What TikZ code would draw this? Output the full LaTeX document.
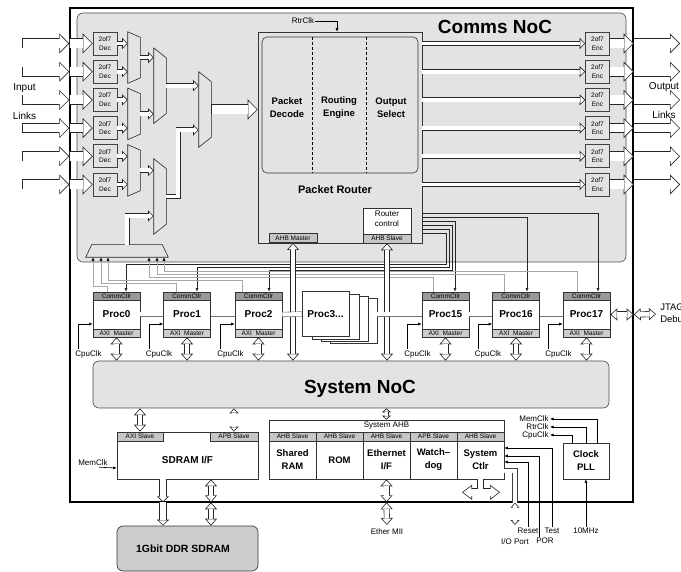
\documentclass[tikz,border=0pt]{standalone}
\usepackage{fontspec}
\setmainfont{Liberation Sans}
\usetikzlibrary{arrows.meta}
\usetikzlibrary{positioning}

\begin{document}
\begin{tikzpicture}[x=1pt,y=-1pt,semithick]
	%\draw[help lines] (0,0) grid (681,572);
	\useasboundingbox (0,0) rectangle (681,572);

	\tikzstyle{noc} = [draw=black!70,fill=gray!22,rounded corners=6pt,inner sep=0pt]
	\tikzstyle{blk} = [draw=black!80,fill=white,inner sep=0pt]
	\tikzstyle{codec} = [draw=black!75,fill=gray!22,minimum width=24pt,minimum height=23pt,inner sep=0pt,align=center,font=\fontsize{6.5}{8.5}\selectfont]
	\tikzstyle{muxn} = [inner sep=0pt,minimum width=12pt]
	\tikzstyle{muxl} = [draw=black!85,fill=gray!22]
	\tikzstyle{proc} = [blk,minimum width=47pt,minimum height=45pt,font=\fontsize{10}{12}\selectfont\bfseries]
	\tikzstyle{ctl} = [draw=black!80,fill=gray!80,minimum width=47pt,minimum height=8pt,inner sep=0pt,font=\fontsize{6.5}{7}\selectfont]
	\tikzstyle{axi} = [draw=black!80,fill=gray!40,minimum width=47pt,minimum height=8pt,inner sep=0pt,font=\fontsize{6.5}{7}\selectfont]
	\tikzstyle{slv} = [draw=black!80,fill=gray!45,minimum height=9pt,inner sep=0pt,font=\fontsize{6.5}{7}\selectfont]
	\tikzstyle{bl} = [align=center,inner sep=0pt,font=\fontsize{9.5}{13}\selectfont\bfseries]
	\tikzstyle{lbl} = [inner sep=1pt,font=\fontsize{8}{9}\selectfont]
	\tikzstyle{big} = [font=\fontsize{10}{12}\selectfont]
	\tikzstyle{sig} = [->,>={Latex[length=3.5pt,width=3pt]},black]
	\tikzstyle{gline} = [->,>={Latex[length=3.5pt,width=3pt,color=black]},gray!70]
	\tikzstyle{rline} = [->,>={Latex[length=3.5pt,width=3pt]},black!85]
	\tikzstyle{bigarr} = [line width=10pt,draw=black!85,-{Triangle[length=10pt,width=20pt,fill=white,line width=0.6pt]},postaction={draw=white,line width=8.8pt,-,shorten >=9.3pt,shorten <=0.6pt}]
	\tikzstyle{sarr} = [line width=5pt,draw=black!85,-{Triangle[length=5.5pt,width=11pt,fill=white,line width=0.6pt]},postaction={draw=white,line width=3.8pt,-,shorten >=4.9pt}]
	\tikzstyle{vdbl} = [line width=6pt,draw=black!85,{Triangle[length=7pt,width=12pt,fill=white,line width=0.6pt]}-{Triangle[length=7pt,width=12pt,fill=white,line width=0.6pt]},postaction={draw=white,line width=4.8pt,-,shorten >=6.4pt,shorten <=6.4pt}]
	\tikzstyle{vsng} = [line width=8pt,draw=black!85,-{Triangle[length=6pt,width=12pt,fill=white,line width=0.6pt]},postaction={draw=white,line width=6.8pt,-,shorten >=5.4pt}]
	\tikzstyle{vthin} = [line width=4.5pt,draw=black!85,{Triangle[length=5pt,width=9pt,fill=white,line width=0.6pt]}-{Triangle[length=5pt,width=9pt,fill=white,line width=0.6pt]},postaction={draw=white,line width=3.3pt,-,shorten >=4.4pt,shorten <=4.4pt}]
	\tikzstyle{vsml} = [line width=4pt,draw=black!85,{Triangle[length=4pt,width=9pt,fill=white,line width=0.6pt]}-{Triangle[length=4pt,width=9pt,fill=white,line width=0.6pt]},postaction={draw=white,line width=2.8pt,-,shorten >=3.4pt,shorten <=3.4pt}]
	\tikzstyle{hsc} = [line width=8pt,draw=black!85,{Triangle[length=10pt,width=15pt,fill=white,line width=0.6pt]}-{Triangle[length=10pt,width=15pt,fill=white,line width=0.6pt]},postaction={draw=white,line width=6.8pt,-,shorten >=9.4pt,shorten <=9.4pt}]
	\tikzstyle{stem} = [line width=7pt,draw=black!85,postaction={draw=white,line width=5.8pt}]
	\tikzstyle{bus} = [double=white,double distance=4pt,draw=black!55]
	\tikzstyle{dline} = [double=white,double distance=4pt,draw=black!75]

	% chip, comms NoC and system NoC
	\node[draw,line width=1.4pt,minimum width=563pt,minimum height=494pt,inner sep=0pt] (chip) at (351.5,255) {};
	\node[noc,minimum width=549pt,minimum height=249pt] (comms) at (351.5,137.5) {};
	\node[font=\fontsize{19}{22}\selectfont\bfseries] (commst) at (495,27) {Comms NoC};
	\node[noc,minimum width=516pt,minimum height=47pt] (sysnoc) at (351,384.5) {};
	\node[font=\fontsize{19}{22}\selectfont\bfseries] (sysnoct) at (360,388.5) {System NoC};

	% link decoders and encoders
	\coordinate (in1) at (22,43.5);
	\coordinate (in2) at (22,71.7);
	\coordinate (in3) at (22,99.9);
	\coordinate (in4) at (22,128.1);
	\coordinate (in5) at (22,156.3);
	\coordinate (in6) at (22,184.5);

	\node[codec] (dec1) at (105,43.5) {2of7\\Dec};
	\node[codec] (dec2) at (105,71.7) {2of7\\Dec};
	\node[codec] (dec3) at (105,99.9) {2of7\\Dec};
	\node[codec] (dec4) at (105,128.1) {2of7\\Dec};
	\node[codec] (dec5) at (105,156.3) {2of7\\Dec};
	\node[codec] (dec6) at (105,184.5) {2of7\\Dec};

	\node[codec] (enc1) at (597.5,43.5) {2of7\\Enc};
	\node[codec] (enc2) at (597.5,71.7) {2of7\\Enc};
	\node[codec] (enc3) at (597.5,99.9) {2of7\\Enc};
	\node[codec] (enc4) at (597.5,128.1) {2of7\\Enc};
	\node[codec] (enc5) at (597.5,156.3) {2of7\\Enc};
	\node[codec] (enc6) at (597.5,184.5) {2of7\\Enc};

	\coordinate (out1) at (680,43.5);
	\coordinate (out2) at (680,71.7);
	\coordinate (out3) at (680,99.9);
	\coordinate (out4) at (680,128.1);
	\coordinate (out5) at (680,156.3);
	\coordinate (out6) at (680,184.5);

	% muxes
	\node[muxn,minimum height=51pt] (m1) at (134,57.6) {};
	\node[muxn,minimum height=51pt] (m2) at (134,113.9) {};
	\node[muxn,minimum height=51pt] (m3) at (134,170.4) {};
	\node[muxn,minimum height=75pt] (ma) at (160,85.7) {};
	\node[muxn,minimum height=75pt] (mb) at (160,196.5) {};
	\node[muxn,minimum height=75pt] (mc) at (205,109.5) {};
	\node[muxn,minimum width=82pt,minimum height=12pt] (dbg) at (127,251) {};

	\draw[muxl] (m1.north west) -- ([yshift=-5.5pt]m1.north east) -- ([yshift=5.5pt]m1.south east) -- (m1.south west) -- cycle;
	\draw[muxl] (m2.north west) -- ([yshift=-5.5pt]m2.north east) -- ([yshift=5.5pt]m2.south east) -- (m2.south west) -- cycle;
	\draw[muxl] (m3.north west) -- ([yshift=-5.5pt]m3.north east) -- ([yshift=5.5pt]m3.south east) -- (m3.south west) -- cycle;
	\draw[muxl] (ma.north west) -- ([yshift=-10pt]ma.north east) -- ([yshift=10pt]ma.south east) -- (ma.south west) -- cycle;
	\draw[muxl] (mb.north west) -- ([yshift=-10pt]mb.north east) -- ([yshift=10pt]mb.south east) -- (mb.south west) -- cycle;
	\draw[muxl] (mc.north west) -- ([yshift=-10pt]mc.north east) -- ([yshift=10pt]mc.south east) -- (mc.south west) -- cycle;
	\draw[muxl] (dbg.south west) -- (dbg.south east) -- ([xshift=-6pt]dbg.north east) -- ([xshift=6pt]dbg.north west) -- cycle;

	% packet router
	\node[draw=black!80,fill=gray!22,minimum width=164pt,minimum height=211pt,inner sep=0pt] (router) at (340,137.5) {};
	\node[draw=black!80,rounded corners=5pt,minimum width=156pt,minimum height=136pt,inner sep=0pt] (core) at (340,105) {};
	\draw[densely dashed,thin] (312,37) -- (312,173);
	\draw[densely dashed,thin] (366,37) -- (366,173);
	\node[bl] (pdec) at (287,108) {Packet\\Decode};
	\node[bl] (reng) at (339,108) {Routing\\Engine};
	\node[bl] (osel) at (391,108) {Output\\Select};
	\node[bl,font=\fontsize{11}{13}\selectfont\bfseries] (prt) at (335,190) {Packet Router};
	\node[blk,minimum width=48pt,minimum height=35pt] (rctl) at (387,225.5) {};
	\node[align=center,inner sep=0pt,font=\fontsize{8}{10}\selectfont] (rctlt) at (387,219) {Router\\control};
	\node[slv,minimum width=48pt,anchor=south] (ahbs) at (rctl.south) {AHB Slave};
	\node[slv,minimum width=48pt,anchor=south] (ahbm) at (293,243) {AHB Master};
	\node[lbl] (rtrclk) at (303,21) {RtrClk};

	% processors
	\node[proc] (p0) at (116.5,314.5) {Proc0};
	\node[proc] (p1) at (187,314.5) {Proc1};
	\node[proc] (p2) at (258.5,314.5) {Proc2};
	\node[proc] (p3c) at (353.5,321) {};
	\node[proc] (p3b) at (344.5,319) {};
	\node[proc] (p3a) at (335.5,316.5) {};
	\node[proc] (p3) at (325.5,314) {Proc3...};
	\node[proc] (p15) at (445.5,314.5) {Proc15};
	\node[proc] (p16) at (516,314.5) {Proc16};
	\node[proc] (p17) at (586.5,314.5) {Proc17};

	\node[ctl,anchor=north] (c0) at (p0.north) {CommCtlr};
	\node[ctl,anchor=north] (c1) at (p1.north) {CommCtlr};
	\node[ctl,anchor=north] (c2) at (p2.north) {CommCtlr};
	\node[ctl,anchor=north] (c15) at (p15.north) {CommCtlr};
	\node[ctl,anchor=north] (c16) at (p16.north) {CommCtlr};
	\node[ctl,anchor=north] (c17) at (p17.north) {CommCtlr};

	\node[axi,anchor=south] (a0) at (p0.south) {AXI\ \ Master};
	\node[axi,anchor=south] (a1) at (p1.south) {AXI\ \ Master};
	\node[axi,anchor=south] (a2) at (p2.south) {AXI\ \ Master};
	\node[axi,anchor=south] (a15) at (p15.south) {AXI\ \ Master};
	\node[axi,anchor=south] (a16) at (p16.south) {AXI\ \ Master};
	\node[axi,anchor=south] (a17) at (p17.south) {AXI\ \ Master};

	\node[lbl] (ck0) at (88.5,354) {CpuClk};
	\node[lbl] (ck1) at (159,354) {CpuClk};
	\node[lbl] (ck2) at (230.5,354) {CpuClk};
	\node[lbl] (ck15) at (417.5,354) {CpuClk};
	\node[lbl] (ck16) at (488,354) {CpuClk};
	\node[lbl] (ck17) at (558.5,354) {CpuClk};

	\node[anchor=west,align=left,inner sep=0pt,font=\fontsize{9.5}{12}\selectfont] (jtag) at (660,314) {JTAG\\Debug};

	% SDRAM interface
	\node[blk,minimum width=141pt,minimum height=47pt] (sdram) at (187.5,455.5) {};
	\node[slv,minimum width=46pt,anchor=north west] (sdaxi) at (sdram.north west) {AXI Slave};
	\node[slv,minimum width=48pt,anchor=north east] (sdapb) at (sdram.north east) {APB Slave};
	\node[bl,font=\fontsize{10}{12}\selectfont\bfseries] (sdramt) at (187.5,460) {SDRAM I/F};
	\node[lbl] (mclk) at (93,463) {MemClk};
	\node[draw=black!80,fill=gray!40,rounded corners=6pt,minimum width=141pt,minimum height=45pt,inner sep=0pt] (ddr) at (187.5,548.5) {};
	\node[font=\fontsize{10.5}{12}\selectfont\bfseries] (ddrt) at (183,549) {1Gbit DDR SDRAM};

	% system AHB
	\node[blk,minimum width=235pt,minimum height=59pt] (sysahb) at (386.5,449.5) {};
	\node[lbl] (ahbt) at (386.5,426) {System AHB};
	\node[blk,minimum width=47pt,minimum height=47pt] (ram) at (292.5,455.5) {};
	\node[blk,minimum width=47pt,minimum height=47pt] (rom) at (339.5,455.5) {};
	\node[blk,minimum width=47pt,minimum height=47pt] (eth) at (386.5,455.5) {};
	\node[blk,minimum width=47pt,minimum height=47pt] (wdog) at (433.5,455.5) {};
	\node[blk,minimum width=47pt,minimum height=47pt] (sctl) at (480.5,455.5) {};
	\node[slv,minimum width=47pt,anchor=north] (rams) at (ram.north) {AHB Slave};
	\node[slv,minimum width=47pt,anchor=north] (roms) at (rom.north) {AHB Slave};
	\node[slv,minimum width=47pt,anchor=north] (eths) at (eth.north) {AHB Slave};
	\node[slv,minimum width=47pt,anchor=north] (wdogs) at (wdog.north) {APB Slave};
	\node[slv,minimum width=47pt,anchor=north] (sctls) at (sctl.north) {AHB Slave};
	\node[bl] (ramt) at (292.5,460) {Shared\\RAM};
	\node[bl] (romt) at (339.5,460) {ROM};
	\node[bl] (etht) at (386.5,460) {Ethernet\\I/F};
	\node[bl] (wdogt) at (433.5,460) {Watch--\\dog};
	\node[bl] (sctlt) at (480.5,460) {System\\Ctlr};

	\node[lbl,anchor=north] (mii) at (387,527) {Ether MII};
	\node[lbl,anchor=north] (reset) at (528,527) {Reset};
	\node[lbl,anchor=north] (test) at (552,527) {Test};
	\node[lbl,anchor=north] (por) at (545,537) {POR};
	\node[lbl,anchor=north] (iop) at (515,537) {I/O Port};

	% clock PLL
	\node[blk,bl,minimum width=46pt,minimum height=36pt] (pll) at (586,461) {Clock\\PLL};
	\node[lbl,anchor=north] (osc) at (586,527) {10MHz};
	\node[lbl,anchor=east] (memclk) at (550,419) {MemClk};
	\node[lbl,anchor=east] (rclk) at (550,427) {RtrClk};
	\node[lbl,anchor=east] (cclk) at (550,435) {CpuClk};

	% input and output links
	\draw[bigarr] (in1) -- (chip.west |- in1);
	\draw[bigarr] (in2) -- (chip.west |- in2);
	\draw[bigarr] (in3) -- (chip.west |- in3);
	\draw[bigarr] (in4) -- (chip.west |- in4);
	\draw[bigarr] (in5) -- (chip.west |- in5);
	\draw[bigarr] (in6) -- (chip.west |- in6);

	\draw[bigarr] (chip.west |- dec1) -- (dec1.west);
	\draw[bigarr] (chip.west |- dec2) -- (dec2.west);
	\draw[bigarr] (chip.west |- dec3) -- (dec3.west);
	\draw[bigarr] (chip.west |- dec4) -- (dec4.west);
	\draw[bigarr] (chip.west |- dec5) -- (dec5.west);
	\draw[bigarr] (chip.west |- dec6) -- (dec6.west);

	\draw[sarr] (dec1.east) -- (m1.west |- dec1.east);
	\draw[sarr] (dec2.east) -- (m1.west |- dec2.east);
	\draw[sarr] (dec3.east) -- (m2.west |- dec3.east);
	\draw[sarr] (dec4.east) -- (m2.west |- dec4.east);
	\draw[sarr] (dec5.east) -- (m3.west |- dec5.east);
	\draw[sarr] (dec6.east) -- (m3.west |- dec6.east);

	\draw[sarr] (m1.east) -- (ma.west |- m1.east);
	\draw[sarr] (m2.east) -- (ma.west |- m2.east);
	\draw[sarr] (m3.east) -- (mb.west |- m3.east);
	\draw[sarr] (dbg.north) |- ([yshift=-19.5pt]mb.west);
	\draw[sarr] (ma.east) -- (mc.west |- ma.east);
	\draw[sarr] (mb.east) -- ++(12,0) |- ([yshift=-20.5pt]mc.west);
	\draw[bigarr] (mc.east) -- (router.west |- mc.east);

	\draw[sarr] (router.east |- enc1) -- (enc1.west);
	\draw[sarr] (router.east |- enc2) -- (enc2.west);
	\draw[sarr] (router.east |- enc3) -- (enc3.west);
	\draw[sarr] (router.east |- enc4) -- (enc4.west);
	\draw[sarr] (router.east |- enc5) -- (enc5.west);
	\draw[sarr] (router.east |- enc6) -- (enc6.west);

	\draw[bigarr] (enc1.east) -- (chip.east |- enc1);
	\draw[bigarr] (enc2.east) -- (chip.east |- enc2);
	\draw[bigarr] (enc3.east) -- (chip.east |- enc3);
	\draw[bigarr] (enc4.east) -- (chip.east |- enc4);
	\draw[bigarr] (enc5.east) -- (chip.east |- enc5);
	\draw[bigarr] (enc6.east) -- (chip.east |- enc6);

	\draw[bigarr] (chip.east |- enc1) -- (out1);
	\draw[bigarr] (chip.east |- enc2) -- (out2);
	\draw[bigarr] (chip.east |- enc3) -- (out3);
	\draw[bigarr] (chip.east |- enc4) -- (out4);
	\draw[bigarr] (chip.east |- enc5) -- (out5);
	\draw[bigarr] (chip.east |- enc6) -- (out6);

	\node[big] (inl) at (24.5,88.5) {Input};
	\node[big] (inl2) at (24.5,116) {Links};
	\node[big] (outl) at (664,87) {Output};
	\node[big] (outl2) at (664,115) {Links};

	\draw[sig] (rtrclk.east) -| ([xshift=-3pt]router.north);

	% router to comms controllers
	\draw[rline] ([yshift=-75.5pt]router.east) -| ([xshift=11.5pt]c17.north);
	\draw[rline] ([yshift=-79.5pt]router.east) -| ([xshift=11pt]c16.north);
	\draw[rline] ([yshift=-83.5pt]router.east) -| ([xshift=9.5pt]c15.north);
	\draw[rline] ([yshift=-87.5pt]router.east) -- ++(30,0) -- ++(0,45) -| ([xshift=10.5pt]c2.north);
	\draw[rline] ([yshift=-91.5pt]router.east) -- ++(27,0) -- ++(0,38) -| ([xshift=10pt]c1.north);
	\draw[rline] ([yshift=-95.5pt]router.east) -- ++(24,0) -- ++(0,31) -| ([xshift=9.5pt]c0.north);

	% comms controllers to the arbiter
	\draw[gline] ([xshift=-9.5pt]c0.north) -- ++(0,-5) -| ([xshift=-34pt]dbg.south);
	\draw[gline] ([xshift=-11pt]c1.north) -- ++(0,-8) -| ([xshift=-26pt]dbg.south);
	\draw[gline] ([xshift=-16.5pt]c2.north) -- ++(0,-11) -| ([xshift=-19pt]dbg.south);
	\draw[gline] ([xshift=-12.5pt]c15.north) -- ++(0,-14) -| ([xshift=22pt]dbg.south);
	\draw[gline] ([xshift=-12pt]c16.north) -- ++(0,-17) -| ([xshift=30pt]dbg.south);
	\draw[gline] ([xshift=-9.5pt]c17.north) -- ++(0,-20) -| ([xshift=37pt]dbg.south);

	% processors to system NoC
	\draw[vdbl] (ahbm.south) -- (ahbm.south |- sysnoc.north);
	\draw[vdbl] (ahbs.south) -- (ahbs.south |- sysnoc.north);
	\draw[vdbl] (a0.south) -- (a0.south |- sysnoc.north);
	\draw[vdbl] (a1.south) -- (a1.south |- sysnoc.north);
	\draw[vdbl] (a2.south) -- (a2.south |- sysnoc.north);
	\draw[vdbl] (a15.south) -- (a15.south |- sysnoc.north);
	\draw[vdbl] (a16.south) -- (a16.south |- sysnoc.north);
	\draw[vdbl] (a17.south) -- (a17.south |- sysnoc.north);

	\draw[bus] (p0.east) -- (p1.west);
	\draw[bus] (p1.east) -- (p2.west);
	\draw[bus] (p2.east) -- (p3.west);
	\draw[bus] (p3c.east |- p15.west) -- (p15.west);
	\draw[bus] (p15.east) -- (p16.west);
	\draw[bus] (p16.east) -- (p17.west);

	\draw[sig] ([xshift=-10pt]ck0.north) |- ([yshift=-9.5pt]p0.west);
	\draw[sig] ([xshift=-10pt]ck1.north) |- ([yshift=-9.5pt]p1.west);
	\draw[sig] ([xshift=-10pt]ck2.north) |- ([yshift=-9.5pt]p2.west);
	\draw[sig] ([xshift=-10pt]ck15.north) |- ([yshift=-9.5pt]p15.west);
	\draw[sig] ([xshift=-10pt]ck16.north) |- ([yshift=-9.5pt]p16.west);
	\draw[sig] ([xshift=-10pt]ck17.north) |- ([yshift=-9.5pt]p17.west);

	\draw[vdbl] (p17.east) -- (chip.east |- p17);
	\draw[vdbl] (chip.east |- p17) -- ([xshift=-4pt]jtag.west);

	% system NoC to peripherals
	\draw[vdbl] (sysnoc.south -| sdaxi) -- (sdaxi.north);
	\draw[vthin] (sysnoc.south -| sdapb) -- (sdapb.north);
	\draw[vsml] (sysnoc.south -| sysahb.north) -- (sysahb.north);
	\draw[sig] ([xshift=6pt]mclk.south) -- ([yshift=-12.5pt]sdram.west);

	\draw[vsng] ([xshift=-24.5pt]sdram.south) -- +(0,23);
	\draw[vsng] ([xshift=-24.5pt,yshift=-23pt]sdram.south) -- ([xshift=-24.5pt]ddr.north);
	\draw[vdbl] ([xshift=23.5pt]sdram.south) -- +(0,23);
	\draw[vdbl] ([xshift=23.5pt,yshift=-23pt]sdram.south) -- ([xshift=23.5pt]ddr.north);

	\draw[vdbl] (eth.south) -- +(0,23);
	\draw[vdbl] ([yshift=-23pt]eth.south) -- ([yshift=2pt]mii.north);

	\draw[hsc] ([xshift=-18.5pt,yshift=-13pt]sctl.south) -- ([xshift=19.5pt,yshift=-13pt]sctl.south);
	\draw[stem] (sctl.south) -- +(0,10);

	\draw[sig] (test.north) |- ([yshift=7.5pt]sctl.east);
	\draw[sig] ([xshift=-6pt]por.north) |- ([yshift=-0.5pt]sctl.east);
	\draw[sig] (reset.north) |- ([yshift=-6.5pt]sctl.east);
	\draw[dline] ([yshift=-15pt]sctl.east) -| (chip.south -| iop);
	\draw[vthin] (chip.south -| iop) -- ([yshift=12pt]iop.north);

	\draw[sig] (osc.north) -- (pll.south);
	\draw[sig] ([xshift=11pt]pll.north) |- (memclk.east);
	\draw[sig] (pll.north) |- (rclk.east);
	\draw[sig] ([xshift=-14pt]pll.north) |- (cclk.east);

\end{tikzpicture}
\end{document}
